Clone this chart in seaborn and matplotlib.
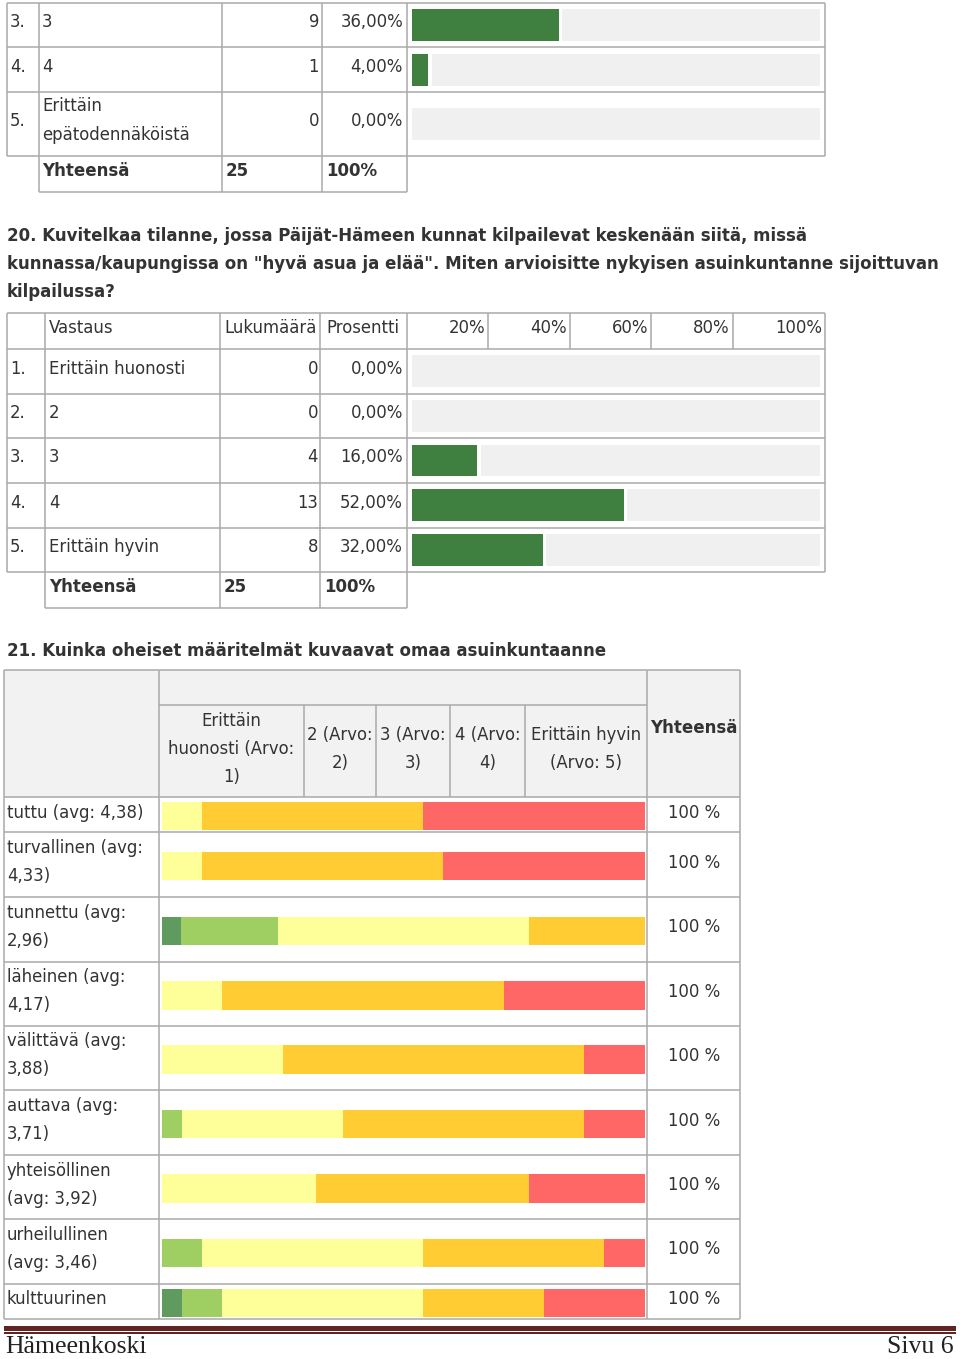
import matplotlib
matplotlib.use("Agg")
import matplotlib.pyplot as plt
import seaborn as sns
import pandas as pd
from matplotlib.patches import Rectangle

# ---------------- data ----------------
q19_nums = ["3.", "4.", "5."]
q19_labels = [["3"], ["4"], ["Erittäin", "epätodennäköistä"]]
q19_counts = [9, 1, 0]
q19_pct = [36.0, 4.0, 0.0]
q19_total = 25

q20_title = [
    "20. Kuvitelkaa tilanne, jossa Päijät-Hämeen kunnat kilpailevat keskenään siitä, missä",
    "kunnassa/kaupungissa on \"hyvä asua ja elää\". Miten arvioisitte nykyisen asuinkuntanne sijoittuvan",
    "kilpailussa?",
]
q20_header = ["Vastaus", "Lukumäärä", "Prosentti"]
q20_ticks = ["20%", "40%", "60%", "80%", "100%"]
q20_nums = ["1.", "2.", "3.", "4.", "5."]
q20_labels = ["Erittäin huonosti", "2", "3", "4", "Erittäin hyvin"]
q20_counts = [0, 0, 4, 13, 8]
q20_pct = [0.0, 0.0, 16.0, 52.0, 32.0]
q20_total = 25

q21_title = "21. Kuinka oheiset määritelmät kuvaavat omaa asuinkuntaanne"
q21_columns = [["Erittäin", "huonosti (Arvo:", "1)"], ["2 (Arvo:", "2)"], ["3 (Arvo:", "3)"],
               ["4 (Arvo:", "4)"], ["Erittäin hyvin", "(Arvo: 5)"]]
q21_items = [["tuttu (avg: 4,38)"], ["turvallinen (avg:", "4,33)"], ["tunnettu (avg:", "2,96)"],
             ["läheinen (avg:", "4,17)"], ["välittävä (avg:", "3,88)"], ["auttava (avg:", "3,71)"],
             ["yhteisöllinen", "(avg: 3,92)"], ["urheilullinen", "(avg: 3,46)"], ["kulttuurinen"]]
q21_arvo1 = [0, 0, 1, 0, 0, 0, 0, 0, 1]
q21_arvo2 = [0, 0, 5, 0, 0, 1, 0, 2, 2]
q21_arvo3 = [2, 2, 13, 3, 6, 8, 8, 11, 10]
q21_arvo4 = [11, 12, 6, 14, 15, 12, 11, 9, 6]
q21_arvo5 = [11, 10, 0, 7, 3, 3, 6, 2, 5]
q21_total_label = "100 %"

footer_left = "Hämeenkoski"
footer_right = "Sivu 6"

# ---------------- style ----------------
GREEN = "#3f7f3f"
BARBG = "#f0f0f0"
LINE = "#aaaaaa"
TXT = "#333333"
Q21_COLORS = ["#5f9a5f", "#9fcf63", "#ffff99", "#ffcc33", "#ff6666"]
FS = 11.9
FS_BOLD = 12.0
FAM = ["DejaVu Sans"]

sns.set_theme(style="white")
plt.rcParams["font.family"] = FAM

W, H = 960, 1359
fig = plt.figure(figsize=(W / 100, H / 100), dpi=100)
fig.patch.set_facecolor("white")

bg = fig.add_axes([0, 0, 1, 1])
bg.set_xlim(0, W)
bg.set_ylim(H, 0)
bg.axis("off")

LW = 1.1


def hline(y, x0, x1, color=LINE, lw=LW):
    bg.plot([x0, x1], [y, y], color=color, lw=lw, solid_capstyle="butt")


def vline(x, y0, y1, color=LINE, lw=LW):
    bg.plot([x, x], [y0, y1], color=color, lw=lw, solid_capstyle="butt")


def txt(x, y, s, ha="left", bold=False, size=None, color=TXT, **kw):
    if size is None:
        size = FS_BOLD if bold else FS
    bg.text(x, y, s, ha=ha, va="center", fontsize=size, color=color,
            fontweight="bold" if bold else "normal", **kw)


def add_axes_px(x0, x1, y0, y1):
    a = fig.add_axes([x0 / W, 1 - y1 / H, (x1 - x0) / W, (y1 - y0) / H])
    a.patch.set_alpha(0)
    return a


def progress_row(ax, p, key, width=1.0):
    sns.barplot(x=[100.0], y=[key], orient="h", color=BARBG, width=width,
                saturation=1, errorbar=None, linewidth=0, ax=ax)
    if p > 0:
        sns.barplot(x=[p + 0.8], y=[key], orient="h", color="white", width=width,
                    saturation=1, errorbar=None, linewidth=0, ax=ax)
        sns.barplot(x=[p], y=[key], orient="h", color=GREEN, width=width,
                    saturation=1, errorbar=None, linewidth=0, ax=ax)


# ================= Q19 (continued table) =================
t_rows = [3, 47, 92, 156]
t_cols = [7, 39, 222, 322, 407, 825]
for y in t_rows:
    hline(y, 7, 825)
for x in t_cols:
    vline(x, 3, 156)
hline(192, 39, 407)
for x in [39, 222, 322, 407]:
    vline(x, 156, 192)

bar_rects = [(9, 41), (54, 86), (108, 140)]
for i in range(3):
    yc = (t_rows[i] + t_rows[i + 1]) / 2 - 3
    txt(10, yc, q19_nums[i])
    lab = q19_labels[i]
    if len(lab) == 1:
        txt(42, yc, lab[0])
    else:
        txt(42, yc - 15, lab[0])
        txt(42, yc + 14, lab[1])
    txt(319, yc, str(q19_counts[i]), ha="right")
    txt(403, yc, f"{q19_pct[i]:.2f}%".replace(".", ","), ha="right")
    ax = add_axes_px(412, 820, *bar_rects[i])
    progress_row(ax, q19_pct[i], "r")
    ax.set_xlim(0, 100)
    ax.set_ylim(0.5, -0.5)
    ax.axis("off")
txt(42, 171, "Yhteensä", bold=True)
txt(226, 171, str(q19_total), bold=True)
txt(326, 171, "100%", bold=True)

# ================= Q20 =================
for i, line in enumerate(q20_title):
    txt(7, 236 + 28 * i, line, bold=True)

r_rows = [313, 349, 394, 438, 483, 528, 572]
for y in r_rows:
    hline(y, 7, 825)
for x in [7, 45, 220, 320, 407, 825]:
    vline(x, 313, 572)
for x in [488, 570, 651, 733]:
    vline(x, 313, 349)
hline(608, 45, 407)
for x in [45, 220, 320, 407]:
    vline(x, 572, 608)

txt(49, 328, q20_header[0])
txt(224, 328, q20_header[1])
txt(326, 328, q20_header[2])
for x, s in zip([485, 567, 648, 730, 822], q20_ticks):
    txt(x, 328, s, ha="right")

for i in range(5):
    yc = (r_rows[i + 1] + r_rows[i + 2]) / 2 - 3
    txt(10, yc, q20_nums[i])
    txt(49, yc, q20_labels[i])
    txt(318, yc, str(q20_counts[i]), ha="right")
    txt(403, yc, f"{q20_pct[i]:.2f}%".replace(".", ","), ha="right")

ax20 = add_axes_px(412, 820, 349, 572)
keys = [f"r{i}" for i in range(5)]
df20 = pd.DataFrame({"key": keys, "pct": q20_pct})
sns.barplot(data=df20.assign(full=100.0), x="full", y="key", orient="h", color=BARBG,
            width=0.71, saturation=1, errorbar=None, linewidth=0, ax=ax20)
sns.barplot(data=df20.assign(gap=[p + 0.8 if p > 0 else 0 for p in q20_pct]), x="gap", y="key",
            orient="h", color="white", width=0.71, saturation=1, errorbar=None, linewidth=0, ax=ax20)
sns.barplot(data=df20, x="pct", y="key", orient="h", color=GREEN,
            width=0.71, saturation=1, errorbar=None, linewidth=0, ax=ax20)
ax20.set_xlim(0, 100)
ax20.set_ylim(4.5, -0.5)
ax20.axis("off")

txt(49, 587, "Yhteensä", bold=True)
txt(224, 587, str(q20_total), bold=True)
txt(324, 587, "100%", bold=True)

# ================= Q21 =================
txt(7, 651, q21_title, bold=True)

bg.add_patch(Rectangle((4, 670), 736, 127, facecolor="#f2f2f2", edgecolor="none", zorder=0))
q_rows = [797, 832, 897, 962, 1026, 1090, 1155, 1219, 1284, 1319]
hline(670, 4, 740)
hline(705, 159, 647)
for y in q_rows:
    hline(y, 4, 740)
for x in [4, 159, 647, 740]:
    vline(x, 670, 1319)
for x in [304, 376, 450, 525]:
    vline(x, 705, 797)

col_edges = [159, 304, 376, 450, 525, 647]
for j, lines in enumerate(q21_columns):
    xc = (col_edges[j] + col_edges[j + 1]) / 2
    n = len(lines)
    y0 = 751 - 28.5 * (n - 1) / 2 - 2
    for k, s in enumerate(lines):
        txt(xc, y0 + 28.5 * k, s, ha="center")
txt(694, 728, "Yhteensä", ha="center", bold=True)

levels = [q21_arvo1, q21_arvo2, q21_arvo3, q21_arvo4, q21_arvo5]
for i in range(len(q21_items)):
    y0, y1 = q_rows[i], q_rows[i + 1]
    yc = (y0 + y1) / 2
    lines = q21_items[i]
    if len(lines) == 1:
        txt(7, yc - 2, lines[0])
    else:
        txt(7, yc - 16.5, lines[0])
        txt(7, yc + 11.5, lines[1])
    txt(694, yc - 2, q21_total_label, ha="center")

    counts = [lv[i] for lv in levels]
    n = sum(counts)
    pcts = [100.0 * c / n for c in counts]
    cum = []
    s = 0.0
    for p in pcts:
        s += p
        cum.append(s)
    ax = add_axes_px(162, 644.5, yc + 1.5 - 14.2, yc + 1.5 + 14.2)
    for k in reversed(range(5)):
        sns.barplot(x=[cum[k]], y=["r"], orient="h", color=Q21_COLORS[k], width=1.0,
                    saturation=1, errorbar=None, linewidth=0, ax=ax)
    ax.set_xlim(0, 100)
    ax.set_ylim(0.5, -0.5)
    ax.axis("off")

# ================= footer =================
bg.add_patch(Rectangle((4, 1325.5), 952, 5.5, facecolor="#622423", edgecolor="none"))
bg.add_patch(Rectangle((4, 1332.3), 952, 1.6, facecolor="#622423", edgecolor="none"))
bg.text(5, 1353, footer_left, ha="left", va="baseline", fontsize=18.5,
        family=["Liberation Serif"], color="#222222")
bg.text(954, 1353, footer_right, ha="right", va="baseline", fontsize=18.5,
        family=["Liberation Serif"], color="#222222")

fig.savefig("out.png", dpi=100, facecolor="white")
